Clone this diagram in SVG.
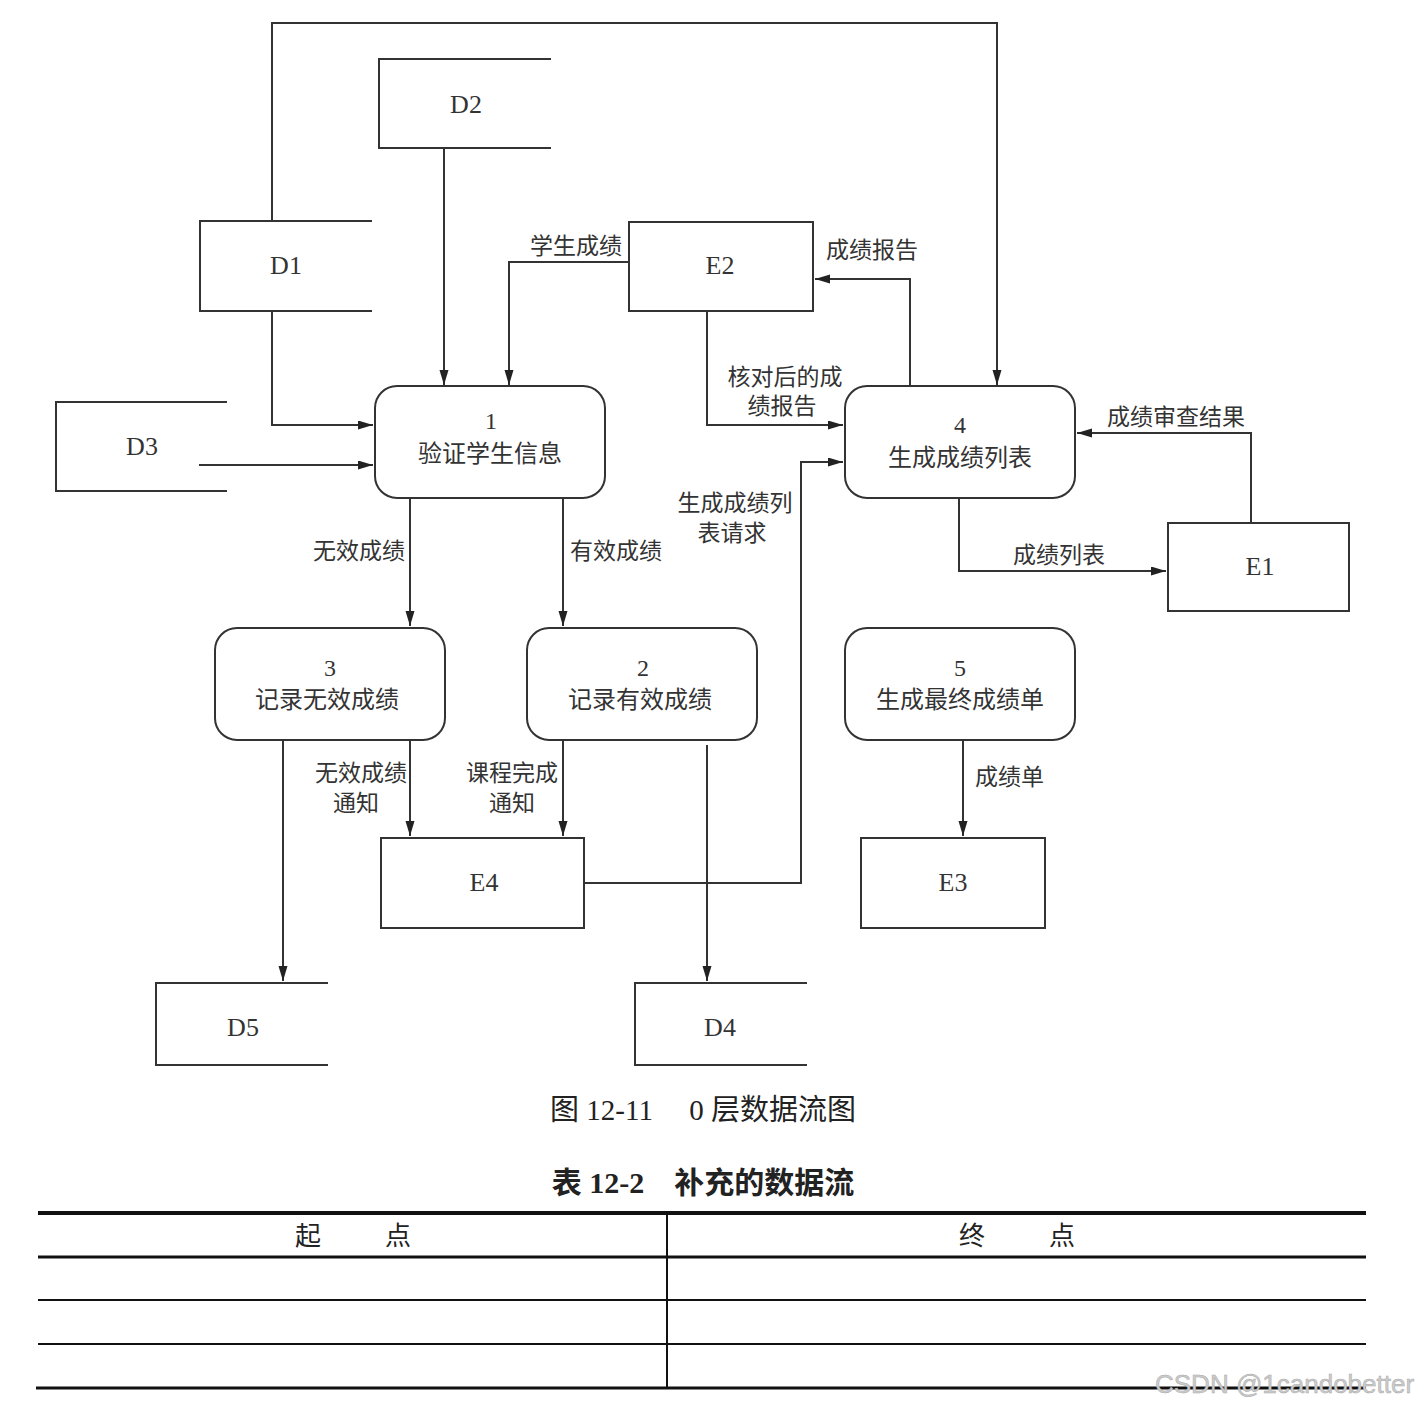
<svg xmlns="http://www.w3.org/2000/svg" width="1420" height="1410" viewBox="0 0 1420 1410">
<style>
.sh{fill:#fff;stroke:#333;stroke-width:2}
.ln{fill:none;stroke:#333;stroke-width:2}
.ar{fill:none;stroke:#333;stroke-width:2;marker-end:url(#ah)}
.t{font-family:"Liberation Serif","Noto Sans CJK SC",serif;font-size:24px;fill:#333;text-anchor:middle}
.id{font-family:"Liberation Serif","Noto Sans CJK SC",serif;font-size:26px;fill:#333;text-anchor:middle}
.l{font-family:"Liberation Serif","Noto Sans CJK SC",serif;font-size:23px;fill:#333}
.cap{font-family:"Liberation Serif","Noto Sans CJK SC",serif;font-size:29px;fill:#222;text-anchor:middle}
.th{font-family:"Liberation Serif","Noto Sans CJK SC",serif;font-size:26px;fill:#222;text-anchor:middle}
.tb{fill:none;stroke:#111}
</style>
<defs>
<marker id="ah" markerUnits="userSpaceOnUse" markerWidth="16" markerHeight="10" refX="15" refY="4.5" orient="auto">
<path d="M0,0 L15,4.5 L0,9 z" fill="#222"/>
</marker>
</defs>
<rect width="1420" height="1410" fill="#fff"/>

<g id="D1"><path class="ln" d="M372,221 H200 V311 H372"/><text class="id" x="286" y="274">D1</text></g>
<g id="D2"><path class="ln" d="M551,59 H379 V148 H551"/><text class="id" x="466" y="113">D2</text></g>
<g id="D3"><path class="ln" d="M227,402 H56 V491 H227"/><text class="id" x="142" y="455">D3</text></g>
<g id="D4"><path class="ln" d="M807,983 H635 V1065 H807"/><text class="id" x="720" y="1036">D4</text></g>
<g id="D5"><path class="ln" d="M328,983 H156 V1065 H328"/><text class="id" x="243" y="1036">D5</text></g>

<g id="E1"><rect class="sh" x="1168" y="523" width="181" height="88"/><text class="id" x="1260" y="575">E1</text></g>
<g id="E2"><rect class="sh" x="629" y="222" width="184" height="89"/><text class="id" x="720" y="274">E2</text></g>
<g id="E3"><rect class="sh" x="861" y="838" width="184" height="90"/><text class="id" x="953" y="891">E3</text></g>
<g id="E4"><rect class="sh" x="381" y="838" width="203" height="90"/><text class="id" x="484" y="891">E4</text></g>

<g id="P1"><rect class="sh" x="375" y="386" width="230" height="112" rx="22"/><text class="t" x="491" y="429">1</text><text class="t" x="490" y="462">验证学生信息</text></g>
<g id="P2"><rect class="sh" x="527" y="628" width="230" height="112" rx="22"/><text class="t" x="643" y="676">2</text><text class="t" x="640" y="708">记录有效成绩</text></g>
<g id="P3"><rect class="sh" x="215" y="628" width="230" height="112" rx="22"/><text class="t" x="330" y="676">3</text><text class="t" x="327" y="708">记录无效成绩</text></g>
<g id="P4"><rect class="sh" x="845" y="386" width="230" height="112" rx="22"/><text class="t" x="960" y="433">4</text><text class="t" x="960" y="466">生成成绩列表</text></g>
<g id="P5"><rect class="sh" x="845" y="628" width="230" height="112" rx="22"/><text class="t" x="960" y="676">5</text><text class="t" x="960" y="708">生成最终成绩单</text></g>

<g id="connectors">
<path class="ar" d="M272,221 V23 H997 V385"/>
<path class="ar" d="M272,311 V425 H373"/>
<path class="ar" d="M444,148 V385"/>
<path class="ar" d="M199,465 H373"/>
<path class="ar" d="M629,262 H509 V385"/>
<text class="l" x="530" y="254">学生成绩</text>
<path class="ar" d="M910,386 V279 H815"/>
<text class="l" x="826" y="258">成绩报告</text>
<path class="ar" d="M707,311 V425 H843"/>
<text class="l" x="785" y="385" text-anchor="middle">核对后的成</text>
<text class="l" x="782" y="414" text-anchor="middle">绩报告</text>
<path class="ar" d="M584,883 H801 V462 H843"/>
<text class="l" x="735" y="511" text-anchor="middle">生成成绩列</text>
<text class="l" x="732" y="541" text-anchor="middle">表请求</text>
<path class="ar" d="M1251,523 V433 H1077"/>
<text class="l" x="1107" y="425">成绩审查结果</text>
<path class="ar" d="M959,498 V571 H1166"/>
<text class="l" x="1013" y="563">成绩列表</text>
<path class="ar" d="M410,498 V626"/>
<text class="l" x="405" y="559" text-anchor="end">无效成绩</text>
<path class="ar" d="M563,498 V626"/>
<text class="l" x="570" y="559">有效成绩</text>
<path class="ar" d="M963,740 V836"/>
<text class="l" x="975" y="785">成绩单</text>
<path class="ar" d="M283,740 V981"/>
<path class="ar" d="M410,740 V836"/>
<text class="l" x="407" y="781" text-anchor="end">无效成绩</text>
<text class="l" x="356" y="811" text-anchor="middle">通知</text>
<path class="ar" d="M563,740 V836"/>
<text class="l" x="512" y="781" text-anchor="middle">课程完成</text>
<text class="l" x="512" y="811" text-anchor="middle">通知</text>
<path class="ar" d="M707,745 V981"/>
</g>

<text class="cap" x="703" y="1120">图 12-11　 0 层数据流图</text>
<text class="cap" x="703" y="1193" style="font-weight:bold;font-size:30px">表 12-2　补充的数据流</text>

<g id="table">
<line class="tb" x1="38" y1="1213" x2="1366" y2="1213" stroke-width="4"/>
<line class="tb" x1="38" y1="1257" x2="1366" y2="1257" stroke-width="3"/>
<line class="tb" x1="38" y1="1300" x2="1366" y2="1300" stroke-width="2"/>
<line class="tb" x1="38" y1="1344" x2="1366" y2="1344" stroke-width="2"/>
<line class="tb" x1="36" y1="1388" x2="1366" y2="1388" stroke-width="3"/>
<line class="tb" x1="667" y1="1213" x2="667" y2="1388" stroke-width="2"/>
<text class="th" x="308" y="1245">起</text>
<text class="th" x="398" y="1245">点</text>
<text class="th" x="972" y="1245">终</text>
<text class="th" x="1062" y="1245">点</text>
</g>
<text x="1155" y="1393" font-family="Liberation Sans, sans-serif" font-size="26" fill="#ccc" stroke="#aaa" stroke-width="0.5">CSDN @1candobetter</text>
</svg>
